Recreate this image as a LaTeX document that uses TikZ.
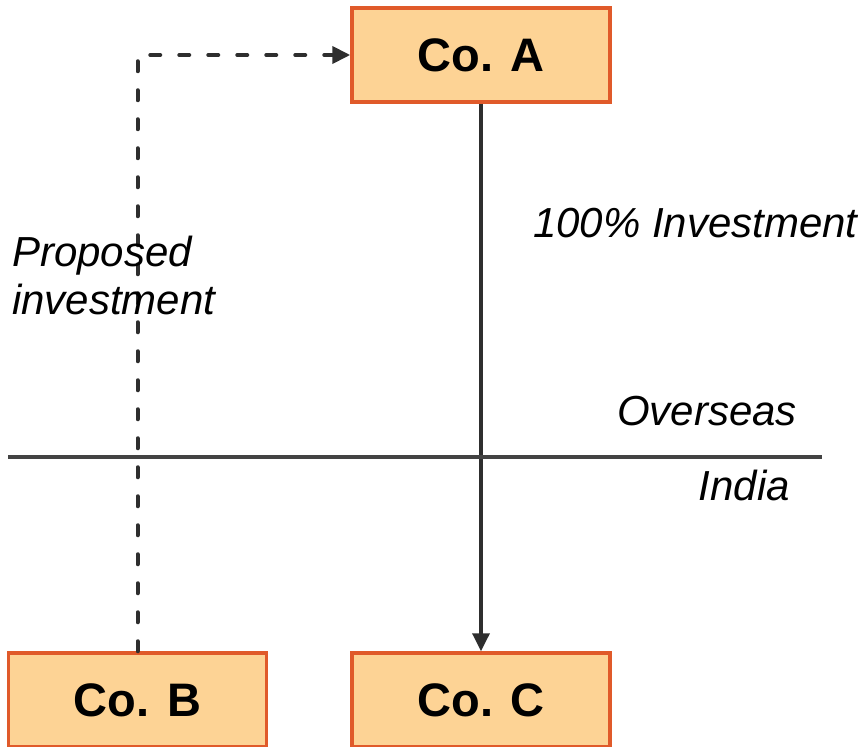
\documentclass[tikz,border=0pt]{standalone}
\usepackage{fontspec}
\setmainfont{Liberation Sans}
\usetikzlibrary{arrows.meta}
\definecolor{boxfill}{HTML}{FDD395}
\definecolor{boxdraw}{HTML}{E05A2A}
\definecolor{linegray}{HTML}{2E2E2E}
\begin{document}
\begin{tikzpicture}[x=1pt,y=-1pt,
  cobox/.style={draw=boxdraw,fill=boxfill,line width=3.5pt,minimum width=258pt,minimum height=94pt,inner sep=0pt,
    font=\fontsize{47}{56}\selectfont\bfseries},
  lbl/.style={inner sep=0pt,font=\fontsize{42}{48}\selectfont\itshape},
  conn/.style={draw=linegray,line width=3.5pt,-{Triangle[length=18pt,width=17pt]}},
  dconn/.style={conn,line width=4pt,dash pattern=on 10pt off 19pt,line cap=round},
  sep/.style={draw=linegray!90,line width=4pt}]
\useasboundingbox (0,0) rectangle (866,746);
\node[cobox] (A) at (481,55) {Co. A};
\node[cobox] (B) at (137.5,700) {Co. B};
\node[cobox] (C) at (481,700) {Co. C};
\coordinate (corner) at (B.north |- A.west);
\draw[dconn] (B.north) -- (corner) -- (A.west);
\draw[conn] (A.south) -- (C.north);
\coordinate (L) at (8,456.5);
\coordinate (R) at (822,456.5);
\draw[sep] (L) -- (R);
\node[lbl,anchor=base west] (inv) at (533,237) {100\% Investment};
\node[lbl,anchor=base west,align=left] (prop) at (12,314) {Proposed\\investment};
\node[lbl,anchor=base east] (ov) at (797,425) {Overseas};
\node[lbl,anchor=base east] (in) at (790,500) {India};
\end{tikzpicture}
\end{document}
